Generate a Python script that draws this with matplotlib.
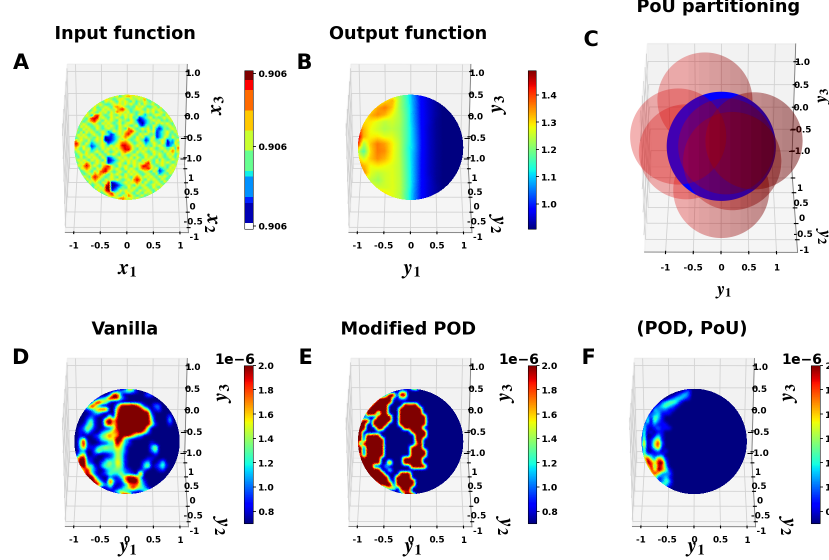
import numpy as np
import matplotlib
matplotlib.use('Agg')
import matplotlib.pyplot as plt
from matplotlib.colors import ListedColormap, BoundaryNorm, Normalize
from matplotlib.cm import ScalarMappable
from mpl_toolkits.mplot3d.art3d import Poly3DCollection

plt.rcParams['mathtext.fontset'] = 'stix'

W, H = 829, 560

input_rows = [
    "5555555555555556556556765655555555555555",
    "5555555555556465645676565645655555555555",
    "5555555555456654566546556574565555555555",
    "5555555556546565465654645565456555555555",
    "5555555465654456565656546465564565555555",
    "5555546564556546766545465654456465555555",
    "5555654565465655678654566546565654555555",
    "5555465654656465766564545656564565555555",
    "5554565378654565465656546535456654655555",
    "5546546888565465654656452345645456565555",
    "5565456786546565465546531234565645456555",
    "5455654565465654564566542134546565654655",
    "5546565456546565465654563245465345565555",
    "5654656546545655465476545656463235456555",
    "5546465654565346565678654546562345654655",
    "4565654565465423565786546565452345645465",
    "5456565546561223456765465634562346546545",
    "6756546456561123465654565423654565243565",
    "7875465345565234567765456534565465133654",
    "6765654234565465668876565645465654234565",
    "5654656345465656567886546565654565456476",
    "4565465456546545656765465654565546567565",
    "5456565654654656546545654565465654656456",
    "6546456565465234565656465465654654565465",
    "5565654656546123456565654656546465456556",
    "5456576456565234565465656578546565654565",
    "5565787565467865465654656887654565456555",
    "5546676546578765654656546778656345465655",
    "5554565465788654565465654565465234656555",
    "5565456576765465654656565456546345465555",
    "5555654787654565465654676565654656545555",
    "5555465676546565654565787546565465455555",
    "5555546565465912345656676465456546555555",
    "5555565456548911234565465654565654555555",
    "5555555465659912345465654565465465555555",
    "5555555546568923465656546556546555555555",
    "5555555556456785654665465465645655555555",
    "5555555555545676546576545645555555555555",
    "5555555555556545677656565455555555555555",
    "5555555555555556576565555555555555555555",
]

# percent of the jet range, coarse grid
output_grid = [
    [60, 60, 60, 60, 60, 60, 52, 42, 25, 12, 7, 3, 0, 0, 0, 0],
    [60, 60, 60, 62, 68, 72, 56, 42, 27, 12, 7, 3, 0, 0, 0, 0],
    [60, 60, 66, 74, 78, 70, 55, 43, 27, 12, 7, 3, 0, 0, 0, 0],
    [60, 62, 72, 76, 72, 64, 56, 44, 27, 12, 7, 3, 0, 0, 0, 0],
    [66, 68, 66, 62, 58, 60, 56, 44, 27, 12, 7, 2, 0, 0, 0, 0],
    [88, 72, 64, 60, 56, 58, 55, 44, 28, 12, 6, 2, 0, 0, 0, 0],
    [100, 72, 65, 66, 62, 62, 56, 44, 28, 12, 6, 2, 0, 0, 0, 0],
    [90, 55, 70, 78, 74, 66, 58, 44, 28, 12, 6, 2, 0, 0, 0, 0],
    [60, 45, 68, 78, 76, 66, 58, 44, 28, 12, 6, 2, 0, 0, 0, 0],
    [70, 60, 70, 76, 72, 65, 58, 44, 28, 12, 6, 2, 0, 0, 0, 0],
    [78, 72, 64, 66, 64, 62, 58, 44, 28, 12, 6, 2, 0, 0, 0, 0],
    [60, 76, 62, 58, 60, 62, 58, 44, 28, 12, 6, 2, 0, 0, 0, 0],
    [60, 60, 58, 54, 60, 62, 58, 44, 28, 12, 7, 2, 0, 0, 0, 0],
    [60, 62, 62, 60, 60, 62, 58, 44, 27, 12, 7, 3, 0, 0, 0, 0],
    [60, 62, 62, 70, 66, 62, 57, 42, 26, 12, 7, 3, 0, 0, 0, 0],
    [60, 60, 60, 60, 60, 60, 58, 42, 26, 12, 7, 3, 0, 0, 0, 0],
]

vanilla_rows = [
    "000000000000000560000000000000",
    "000000000001223431000000000000",
    "000000000029820000002200000000",
    "000000023498831000000000000000",
    "000001796510000000000000000000",
    "000349620000389998510022000000",
    "000012478800699999963012000000",
    "000001231000799999999100000000",
    "000012100050899999999300002000",
    "000024100796899999999400003000",
    "000135100695899999999510001000",
    "001253100114899999994000000000",
    "001131002346799999962000000000",
    "001000124575699963200000000000",
    "003700013455994100000000000000",
    "004910001133963100000100000000",
    "003711134544652000000350000000",
    "002200253333542000000240000000",
    "014600100012541000000010000000",
    "059911000223541000001100000000",
    "079921002353641000023001300000",
    "168934103443541000035012410000",
    "024783200234432100120001200000",
    "002784101243352210800000000000",
    "000899410021137997300000000000",
    "000589731092116999410000000000",
    "000026973251012677420000130000",
    "000002410120124585431000240000",
    "000000012002453211135100000000",
    "000000000000079710000000000000",
]

pod_rows = [
    "000000000000000480000000000000",
    "000000000000330000000000000000",
    "000000003990990000000000000000",
    "000000999920330000000000000000",
    "000009999900000000000000000000",
    "000099999000099990000000000000",
    "000999999000999999000000000000",
    "000999099000999999000000000000",
    "002000999900999999900000000000",
    "099909999900999999900000000000",
    "099009999000999999900000000000",
    "999000990000099999000000000000",
    "990000000000000999900000000000",
    "990999900000000099900000000000",
    "990999990000000099000000000000",
    "909999990000000069000000000000",
    "990999990000000999000000000000",
    "990999990000000999900000000000",
    "090999990000000999900000000000",
    "099999900000099999000000000000",
    "099999900900099999000000000000",
    "099990003000000999900000000000",
    "009999900400000000000000000000",
    "009999990000999000000000000000",
    "000999999009999000000000000000",
    "000099999309999900000000000000",
    "000000999909999900000000000000",
    "000000005550999000000000000000",
    "000000000000577000000000000000",
    "000000000000099900000000000000",
]

pou_rows = [
    "000000000000000000000000000000",
    "000000000000120000000000000000",
    "000000000012320000000000000000",
    "000000001233210000000000000000",
    "000000234431000000000000000000",
    "000012343210000000000000000000",
    "000032221100000000000000000000",
    "001223111000000000000000000000",
    "003143100000000000000000000000",
    "004042100000000000000000000000",
    "031121110000000000000000000000",
    "031012111000000000000000000000",
    "040101100000000000000000000000",
    "040013100000000000000000000000",
    "050136100000000000000000000000",
    "070158200000000000000000000000",
    "050147100000000000000000000000",
    "040012010000000000000000000000",
    "052211200000000000000000000000",
    "068427510000000000000000000000",
    "029758920000000000000000000000",
    "026838730000000000000000000000",
    "013849741000000000000000000000",
    "002685222000000000000000000000",
    "001541231000000000000000000000",
    "000231242000000000000000000000",
    "000012431000000000000000000000",
    "000001310000000000000000000000",
    "000000000000000000000000000000",
    "000000000000000000000000000000",
]

# red patches in panel C: centre u, centre v, radius, in front of the blue ball or not
pou_u = [-0.30, -0.64, 0.00, -0.79, 0.09, 0.60, 0.20]
pou_v = [0.85, -0.10, -0.80, 0.18, 0.00, 0.10, -0.27]
pou_r = [0.87, 0.87, 0.88, 0.88, 0.88, 0.89, 0.90]
pou_front = [False, False, False, True, True, True, True]

# discrete colorbar of panel A, bottom to top
input_bounds = [0.0, 0.10, 0.44, 0.54, 0.88, 0.98, 1.32, 1.66, 2.00, 2.34, 2.51, 2.67]
input_bound_colors = ['#ffffff', '#0000b4', '#0020ff', '#0090ff', '#10f0e8', '#66ff90',
                      '#c8ff30', '#ffc800', '#ff6a00', '#ff0000', '#800000']
input_ticks = [0.05, 1.39, 2.62]
input_ticklabels = ['0.906', '0.906', '0.906']

output_range = (0.908, 1.49)
output_ticks = [1.0, 1.1, 1.2, 1.3, 1.4]
error_range = (0.70, 2.0)
error_ticks = [0.8, 1.0, 1.2, 1.4, 1.6, 1.8, 2.0]

ticks_3d = [-1, -0.5, 0, 0.5, 1]
tick_labels = ['-1', '-0.5', '0', '0.5', '1']
ztick_labels = ['\u22121.0', '\u22120.5', '0.0', '0.5', '1.0']

ELEV, AZIM = 33, -89.8
LIM = 1.16
AX_SIZE = 260
SS = 2


def rect(x0, y0, x1, y1):
    return [x0 / W, 1 - y1 / H, (x1 - x0) / W, (y1 - y0) / H]


def view_vectors():
    e, a = np.radians(ELEV), np.radians(AZIM)
    toward = np.array([np.cos(e) * np.cos(a), np.cos(e) * np.sin(a), np.sin(e)])
    right = np.array([-np.sin(a), np.cos(a), 0])
    up = np.array([-np.sin(e) * np.cos(a), -np.sin(e) * np.sin(a), np.cos(e)])
    return toward, right, up


def digits(rows):
    n = max(len(r) for r in rows)
    return np.array([[int(c) for c in r.ljust(n, '5')] for r in rows], dtype=float) / 9


def sample(g, u, v):
    n = g.shape[0] - 1
    cx = np.clip((u + 1) / 2 * n, 0, n - 1e-6)
    cy = np.clip((1 - v) / 2 * n, 0, n - 1e-6)
    i, j = cy.astype(int), cx.astype(int)
    fx, fy = cx - j, cy - i
    return (g[i, j] * (1 - fx) * (1 - fy) + g[i, j + 1] * fx * (1 - fy)
            + g[i + 1, j] * (1 - fx) * fy + g[i + 1, j + 1] * fx * fy)


def soften(g, gain):
    # rounds off the grid cells, gain keeps the saturated blobs saturated
    n = 3 * (g.shape[0] - 1) + 1
    u, v = np.meshgrid(np.linspace(-1, 1, n), np.linspace(1, -1, n))
    f = sample(g, u, v)
    k = np.ones(3) / 3
    for axis in (0, 1):
        f = np.apply_along_axis(lambda m: np.convolve(np.pad(m, 1, mode='edge'), k, 'valid'), axis, f)
    return np.clip(f * gain, 0, 1)


def make_axes(cx, cy, lim=LIM, zoom=0.786):
    s = AX_SIZE
    cx, cy = cx - 4, cy + 4
    ax = fig.add_axes(rect(cx - s / 2, cy - s / 2, cx + s / 2, cy + s / 2), projection='3d')
    ax.patch.set_alpha(0)
    ax.computed_zorder = False
    ax.view_init(elev=ELEV, azim=AZIM)
    ax.set_box_aspect((1, 1, 1), zoom=zoom)
    ax.set_xlim(-lim, lim)
    ax.set_ylim(-lim, lim)
    ax.set_zlim(-lim, lim)
    ax.set_xticks(ticks_3d)
    ax.set_yticks(ticks_3d)
    ax.set_zticks(ticks_3d)
    ax.set_xticklabels(tick_labels, fontsize=6.3, fontweight='bold')
    ax.set_yticklabels(tick_labels, fontsize=6.3, fontweight='bold')
    ax.set_zticklabels(ztick_labels, fontsize=6.3, fontweight='bold')
    ax.tick_params(axis='both', pad=-3)
    ax.zaxis.set_ticks_position('upper')
    for a in (ax.xaxis, ax.yaxis, ax.zaxis):
        a._axinfo['grid']['linewidth'] = 0.6
        a._axinfo['grid']['color'] = '#d2d2d2'
        a.line.set_color('#777777')
        a.line.set_linewidth(0.6)
    return ax


def draw_field(ax, g):
    toward, right, up = view_vectors()
    r, t = np.meshgrid(np.linspace(0, 1, 61), np.linspace(0, 2 * np.pi, 241), indexing='ij')
    u, v = r * np.cos(t), r * np.sin(t)
    w = np.sqrt(np.clip(1 - u ** 2 - v ** 2, 0, None))
    x = u * right[0] + v * up[0] + w * toward[0]
    y = u * right[1] + v * up[1] + w * toward[1]
    z = u * right[2] + v * up[2] + w * toward[2]
    colors = plt.cm.jet(sample(g, u, v))
    ax.plot_surface(x, y, z, facecolors=colors, rstride=1, cstride=1, shade=False,
                    linewidth=0, antialiased=False, zorder=5)


def draw_pou(ax):
    toward, right, up = view_vectors()
    t = np.linspace(0, 2 * np.pi, 361)
    pts = np.outer(np.cos(t), right) + np.outer(np.sin(t), up)
    ax.add_collection3d(Poly3DCollection([pts], facecolors='#0000ff', edgecolors='none', zorder=5))
    steps = np.linspace(-0.6, 1.5, 12)
    for k, (cu, cv, cr, front) in enumerate(zip(pou_u, pou_v, pou_r, pou_front)):
        pts = np.outer(cu + cr * np.cos(t), right) + np.outer(cv + cr * np.sin(t), up)
        polys = [pts]
        cols = [(0.85, 0, 0, 0.3)]
        # each patch gets darker towards the right
        for a in steps:
            if a >= cu + cr:
                continue
            us = np.linspace(max(a, cu - cr), cu + cr, 80)
            h = np.sqrt(np.clip(cr ** 2 - (us - cu) ** 2, 0, None))
            pu = np.r_[us, us[::-1]]
            pv = np.r_[cv + h, (cv - h)[::-1]]
            polys.append(np.outer(pu, right) + np.outer(pv, up))
            cols.append((0, 0, 0, 0.022))
        base = 6 + k if front else 2 + k * 0.5
        for m, (p, c) in enumerate(zip(polys, cols)):
            ax.add_collection3d(Poly3DCollection([p], facecolors=[c], edgecolors='none',
                                                 zorder=base + m * 0.01))


def colorbar(x0, y0, x1, y1, cmap, norm, ticks, labels=None, spacing='uniform'):
    cax = fig.add_axes(rect(x0, y0, x1, y1))
    cb = fig.colorbar(ScalarMappable(norm=norm, cmap=cmap), cax=cax, spacing=spacing)
    cb.set_ticks(ticks)
    cb.minorticks_off()
    if labels is not None:
        cb.set_ticklabels(labels)
    else:
        cb.set_ticklabels(['%.1f' % v for v in ticks])
    cax.tick_params(labelsize=6.6, length=2, width=0.6, pad=1.5)
    for lab in cax.get_yticklabels():
        lab.set_fontweight('bold')
    cb.outline.set_linewidth(0.4)
    return cb


def label(px, py, s, rot=0, size=15):
    fig.text(px / W, 1 - py / H, s, rotation=rot, fontsize=size, ha='center', va='center')


fig = plt.figure(figsize=((W + 0.2) / 100, (H + 0.2) / 100), dpi=100)

ax_a = make_axes(127.5, 147)
draw_field(ax_a, np.clip(0.53 + (digits(input_rows) - 5 / 9) * 9 * 0.13, 0, 1))
ax_b = make_axes(411, 147)
draw_field(ax_b, np.array(output_grid, dtype=float) / 100)
ax_c = make_axes(721.6, 146, lim=1.38, zoom=0.974)
draw_pou(ax_c)
ax_d = make_axes(127.5, 441)
draw_field(ax_d, soften(digits(vanilla_rows), 1.1))
ax_e = make_axes(411, 441)
draw_field(ax_e, soften(digits(pod_rows), 1.15))
ax_f = make_axes(694.5, 441)
draw_field(ax_f, soften(digits(pou_rows), 1.1))

colorbar(244.3, 70.7, 253, 229, ListedColormap(input_bound_colors),
         BoundaryNorm(input_bounds, 11), input_ticks, input_ticklabels, spacing='proportional')
colorbar(528, 70.5, 536, 229, plt.cm.jet, Normalize(*output_range), output_ticks)
colorbar(244, 365.5, 253, 523.5, plt.cm.jet, Normalize(*error_range), error_ticks)
colorbar(528, 365.5, 536.5, 523.5, plt.cm.jet, Normalize(*error_range), error_ticks)
colorbar(811, 365.5, 820, 523.5, plt.cm.jet, Normalize(*error_range), error_ticks)

for px, s in [(235, '1e\u22126'), (519, '1e\u22126'), (802, '1e\u22126')]:
    fig.text(px / W, 1 - 360 / H, s, fontsize=10, fontweight='bold', ha='center', va='center')

for px, py, s in [(125, 34, 'Input function'), (408, 34, 'Output function'),
                  (718, 7, 'PoU partitioning'), (125, 329, 'Vanilla'),
                  (408, 329, 'Modified POD'), (692, 329, '(POD, PoU)')]:
    fig.text(px / W, 1 - py / H, s, fontsize=12.7, fontweight='bold', ha='center', va='center')

for px, py, s in [(21, 63, 'A'), (304, 63, 'B'), (591, 40, 'C'),
                  (20, 358, 'D'), (305, 358, 'E'), (588, 358, 'F')]:
    fig.text(px / W, 1 - py / H, s, fontsize=15, fontweight='bold', ha='center', va='center')

x1 = r'$\mathbfit{x}_{\mathbf{1}}$'
x2 = r'$\mathbfit{x}_{\mathbf{2}}$'
x3 = r'$\mathbfit{x}_{\mathbf{3}}$'
y1 = r'$\mathbfit{y}_{\mathbf{1}}$'
y2 = r'$\mathbfit{y}_{\mathbf{2}}$'
y3 = r'$\mathbfit{y}_{\mathbf{3}}$'

label(127, 268, x1)
label(215, 105, x3, 90)
label(213, 223, x2, -90)
label(411, 269, y1)
label(497, 105, y3, 90)
label(498, 223, y2, -90)
label(723, 291, y1, size=13)
label(823, 96, y3, 90, size=13)
label(823, 236, y2, -90, size=13)
label(127, 547, y1)
label(222, 393, y3, 90)
label(222, 525, y2, -90)
label(412, 547, y1)
label(505, 393, y3, 90)
label(505, 525, y2, -90)
label(695, 547, y1)
label(788, 393, y3, 90)
label(788, 525, y2, -90)

# render large and average down, the reference is soft
fig.set_dpi(100 * SS)
fig.canvas.draw()
buf = np.asarray(fig.canvas.buffer_rgba(), dtype=float)[:, :, :3] / 255
buf = buf[-H * SS:, :W * SS]
small = buf.reshape(H, SS, W, SS, 3).mean(axis=(1, 3))
plt.imsave('out.png', small)
